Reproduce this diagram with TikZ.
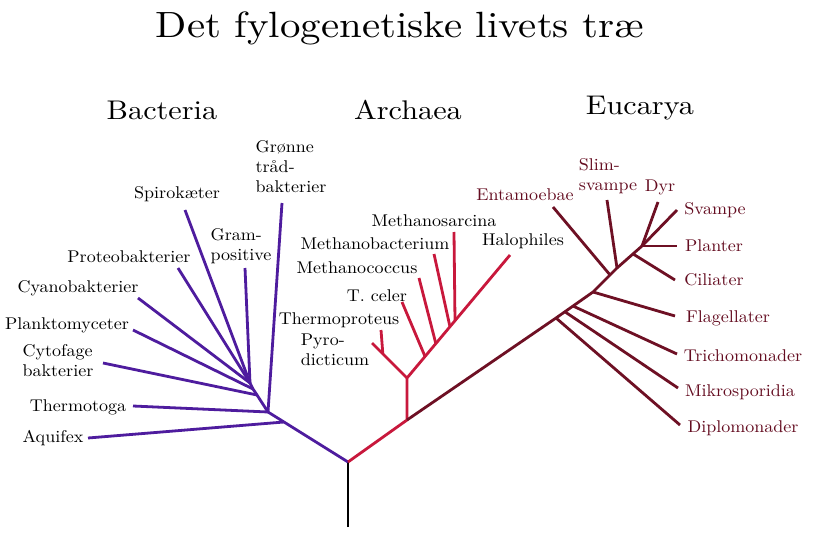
\documentclass[tikz,border=0pt]{standalone}
\usepackage{fontspec}
\newfontfamily\lmw[FakeStretch=1.12]{lmroman10-regular.otf}
\newfontfamily\lml[FakeStretch=1.06]{lmroman10-regular.otf}
\usetikzlibrary{calc}
\definecolor{bacc}{RGB}{78,28,158}
\definecolor{arcc}{RGB}{200,24,60}
\definecolor{eukc}{RGB}{110,16,36}
\definecolor{euktext}{RGB}{100,12,32}
\newcommand{\lblfont}{\lml\fontsize{17}{20}\selectfont}
\begin{document}
\begin{tikzpicture}[x=1pt,y=-1pt,
  trunk/.style={draw=black,line width=2.8pt},
  bac/.style={draw=bacc,line width=2.8pt,line join=round},
  arcl/.style={draw=arcc,line width=2.8pt,line join=round},
  euk/.style={draw=eukc,line width=2.8pt,line join=round},
  lbl/.style={font=\lblfont,inner sep=0pt,align=left},
  elbl/.style={lbl,text=euktext},
  grp/.style={font=\lmw\fontsize{27}{30}\selectfont,inner sep=0pt},
]
\useasboundingbox[fill=white] (0,0) rectangle (815,543);
% titles
\node[font=\lmw\fontsize{36.5}{40}\selectfont,inner sep=0pt] (title) at (400,28) {Det fylogenetiske livets træ};
\node[grp] (gbac) at (162,110) {Bacteria};
\node[grp] (garc) at (408,110) {Archaea};
\node[grp] (geuk) at (640,108) {Eucarya};
% ---------- trunk ----------
\coordinate (base) at (348,527);
\coordinate (root) at (348,462);
\draw[trunk] (base) -- (root);
% ---------- Bacteria ----------
\coordinate (b0) at (268,412);
\coordinate (b1) at (257,395);
\coordinate (b1b) at (253,389);
\coordinate (b2) at (250,383);
\coordinate (baq) at ($(b0)!0.2!(root)$);
\coordinate (tAqu) at (88,438);
\coordinate (tThe) at (133,406);
\coordinate (tCyt) at (103,363);
\coordinate (tPla) at (133,330);
\coordinate (tCya) at (138,298);
\coordinate (tPro) at (178,268);
\coordinate (tSpi) at (185,210);
\coordinate (tGra) at (245,268);
\coordinate (tGro) at (282,203);
\draw[bac] (root) -- (b0) -- (b1) -- (b1b) -- (b2);
\draw[bac] (baq) -- (tAqu);
\draw[bac] (b0) -- (tThe);
\draw[bac] (b0) -- (tGro);
\draw[bac] (b1) -- (tCyt);
\draw[bac] (b1b) -- (tPla);
\draw[bac] (b2) -- (tCya);
\draw[bac] (b2) -- (tPro);
\draw[bac] (b2) -- (tSpi);
\draw[bac] (b2) -- (tGra);
\node[lbl] (lGro) at (291,167) {Grønne\\tråd-\\bakterier};
\node[lbl] (lSpi) at (177,194) {Spirokæter};
\node[lbl] (lGra) at (241,246) {Gram-\\positive};
\node[lbl] (lPro) at (129,257) {Proteobakterier};
\node[lbl] (lCya) at (78,288) {Cyanobakterier};
\node[lbl] (lPla) at (67,325) {Planktomyceter};
\node[lbl] (lCyt) at (58,361) {Cytofage\\bakterier};
\node[lbl] (lThe) at (78,407) {Thermotoga};
\node[lbl] (lAqu) at (53,438) {Aquifex};
% ---------- Archaea ----------
\coordinate (a0) at (407,420);
\coordinate (a1) at (407,378);
\coordinate (tHal) at (510,255);
\coordinate (tPyr) at (372,343);
\coordinate (jThp) at ($(a1)!0.69!(tPyr)$);
\coordinate (tThp) at (381,330);
\coordinate (jTce) at ($(a1)!0.175!(tHal)$);
\coordinate (tTce) at (402,302);
\coordinate (jMco) at ($(a1)!0.28!(tHal)$);
\coordinate (tMco) at (419,278);
\coordinate (jMba) at ($(a1)!0.417!(tHal)$);
\coordinate (tMba) at (434,254);
\coordinate (jMsa) at ($(a1)!0.466!(tHal)$);
\coordinate (tMsa) at (454,232);
\draw[arcl] (root) -- (a0) -- (a1) -- (tHal);
\draw[arcl] (a1) -- (tPyr);
\draw[arcl] (jThp) -- (tThp);
\draw[arcl] (jTce) -- (tTce);
\draw[arcl] (jMco) -- (tMco);
\draw[arcl] (jMba) -- (tMba);
\draw[arcl] (jMsa) -- (tMsa);
\node[lbl] (lMsa) at (434,221) {Methanosarcina};
\node[lbl] (lMba) at (375,244) {Methanobacterium};
\node[lbl] (lHal) at (523,241) {Halophiles};
\node[lbl] (lMco) at (357,268) {Methanococcus};
\node[lbl] (lTce) at (377,296) {T. celer};
\node[lbl] (lThp) at (339,320) {Thermoproteus};
\node[lbl] (lPyr) at (335,350) {Pyro-\\dicticum};
% ---------- Eucarya ----------
\coordinate (e1) at (556,318);
\coordinate (e2) at (593,292);
\coordinate (e3) at (617,268);
\coordinate (e4) at (642,246);
\coordinate (jMik) at ($(e1)!0.24!(e2)$);
\coordinate (jTri) at ($(e1)!0.46!(e2)$);
\coordinate (jEnt) at ($(e2)!0.71!(e3)$);
\coordinate (jCil) at ($(e3)!0.64!(e4)$);
\coordinate (tDip) at (680,425);
\coordinate (tMik) at (678,388);
\coordinate (tTri) at (677,354);
\coordinate (tFla) at (675,316);
\coordinate (tEnt) at (553,207);
\coordinate (tSli) at (607,200);
\coordinate (tCil) at (675,280);
\coordinate (tPln) at (677,246);
\coordinate (tSva) at (677,210);
\coordinate (tDyr) at (658,202);
\draw[euk] (a0) -- (e1) -- (e2) -- (e3) -- (e4);
\draw[euk] (e1) -- (tDip);
\draw[euk] (jMik) -- (tMik);
\draw[euk] (jTri) -- (tTri);
\draw[euk] (e2) -- (tFla);
\draw[euk] (jEnt) -- (tEnt);
\draw[euk] (e3) -- (tSli);
\draw[euk] (jCil) -- (tCil);
\draw[euk] (e4) -- (tPln);
\draw[euk] (e4) -- (tSva);
\draw[euk] (e4) -- (tDyr);
\node[elbl] (lEnt) at (525,195) {Entamoebae};
\node[elbl] (lSli) at (608,176) {Slim-\\svampe};
\node[elbl] (lDyr) at (660,187) {Dyr};
\node[elbl] (lSva) at (715,210) {Svampe};
\node[elbl] (lPln) at (714,246) {Planter};
\node[elbl] (lCil) at (714,280) {Ciliater};
\node[elbl] (lFla) at (728,318) {Flagellater};
\node[elbl] (lTri) at (743,356) {Trichomonader};
\node[elbl] (lMik) at (740,392) {Mikrosporidia};
\node[elbl] (lDip) at (743,428) {Diplomonader};
\end{tikzpicture}
\end{document}
